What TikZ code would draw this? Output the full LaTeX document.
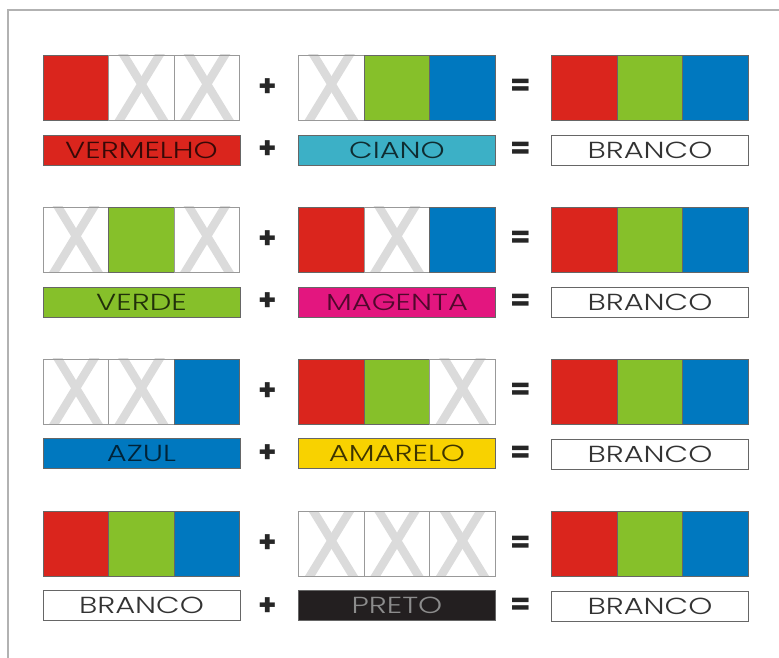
\documentclass[tikz,border=0pt]{standalone}
\usepackage{fontspec}
\setmainfont{Poppins}
\newfontfamily\rotulofont[FakeStretch=1.32]{Poppins Light}
\usepackage{xcolor}

\definecolor{vermelho}{HTML}{DA251D}
\definecolor{verde}{HTML}{86C02A}
\definecolor{azul}{HTML}{0078BF}
\definecolor{ciano}{HTML}{3CB0C6}
\definecolor{rosa}{HTML}{E3167F}
\definecolor{amarelo}{HTML}{F8D200}
\definecolor{preto}{HTML}{231F20}

\tikzstyle{cell}    = [draw=black!60, line width=0.5pt, minimum width=1.64cm, minimum height=1.63cm, inner sep=0pt, outer sep=0pt]
\tikzstyle{xcell}   = [cell, draw=black!40, fill=white, path picture={
        \draw[black!14, line width=0.21cm] ([xshift=-0.57cm, yshift=0.2cm]path picture bounding box.north) -- ([xshift=0.67cm, yshift=-0.2cm]path picture bounding box.south);
        \draw[black!14, line width=0.21cm] ([xshift=0.57cm, yshift=0.2cm]path picture bounding box.north) -- ([xshift=-0.67cm, yshift=-0.2cm]path picture bounding box.south);
    }]
\tikzstyle{rotulo}  = [draw=black!60, line width=0.5pt, minimum width=4.93cm, minimum height=0.75cm, inner sep=0pt, outer sep=0pt, font=\rotulofont\fontsize{16.5}{16.5}\selectfont]
\tikzstyle{op}      = [font=\fontsize{21}{21}\selectfont\bfseries, text=black!85]

\begin{document}
\begin{tikzpicture}[
        x=0.25cm,
        y=-0.25cm
    ]

        \useasboundingbox (0,0) rectangle (77.9,65.8);

        % moldura
        \draw[black!30, line width=0.8pt] (0.8,65.8) -- (0.8,1.0) -- (77.9,1.0);

        % Linha 1: vermelho + ciano
        \node[cell, fill=vermelho] (a11) at (7.6, 8.75) {};
        \node[xcell] (a12) at (14.15, 8.75) {};
        \node[xcell] (a13) at (20.7, 8.75) {};
        \node[xcell] (b11) at (33.15, 8.75) {};
        \node[cell, fill=verde] (b12) at (39.7, 8.75) {};
        \node[cell, fill=azul] (b13) at (46.25, 8.75) {};
        \node[rotulo, fill=vermelho, text=vermelho!25!black] (la1) at (14.15, 15.0) {VERMELHO};
        \node[rotulo, fill=ciano, text=ciano!25!black] (lb1) at (39.7, 15.0) {CIANO};

        % Linha 2: verde + magenta
        \node[xcell] (a21) at (7.6, 23.95) {};
        \node[cell, fill=verde] (a22) at (14.15, 23.95) {};
        \node[xcell] (a23) at (20.7, 23.95) {};
        \node[cell, fill=vermelho] (b21) at (33.15, 23.95) {};
        \node[xcell] (b22) at (39.7, 23.95) {};
        \node[cell, fill=azul] (b23) at (46.25, 23.95) {};
        \node[rotulo, fill=verde, text=verde!25!black] (la2) at (14.15, 30.2) {VERDE};
        \node[rotulo, fill=rosa, text=rosa!35!black] (lb2) at (39.7, 30.2) {MAGENTA};

        % Linha 3: azul + amarelo
        \node[xcell] (a31) at (7.6, 39.15) {};
        \node[xcell] (a32) at (14.15, 39.15) {};
        \node[cell, fill=azul] (a33) at (20.7, 39.15) {};
        \node[cell, fill=vermelho] (b31) at (33.15, 39.15) {};
        \node[cell, fill=verde] (b32) at (39.7, 39.15) {};
        \node[xcell] (b33) at (46.25, 39.15) {};
        \node[rotulo, fill=azul, text=azul!30!black] (la3) at (14.15, 45.35) {AZUL};
        \node[rotulo, fill=amarelo, text=amarelo!25!black] (lb3) at (39.7, 45.35) {AMARELO};

        % Linha 4: branco + preto
        \node[cell, fill=vermelho] (a41) at (7.6, 54.4) {};
        \node[cell, fill=verde] (a42) at (14.15, 54.4) {};
        \node[cell, fill=azul] (a43) at (20.7, 54.4) {};
        \node[xcell] (b41) at (33.15, 54.4) {};
        \node[xcell] (b42) at (39.7, 54.4) {};
        \node[xcell] (b43) at (46.25, 54.4) {};
        \node[rotulo, fill=white, text=black!80] (la4) at (14.15, 60.55) {BRANCO};
        \node[rotulo, fill=preto, text=black!45] (lb4) at (39.7, 60.55) {PRETO};

        % Resultado (sempre branco) e sinais
        \foreach \i/\y in {1/8.75, 2/23.95, 3/39.15, 4/54.4} {
            \node[cell, fill=vermelho] (c\i1) at (58.45, \y) {};
            \node[cell, fill=verde] (c\i2) at (65.0, \y) {};
            \node[cell, fill=azul] (c\i3) at (71.55, \y) {};
            \node[rotulo, fill=white, text=black!80] (lc\i) at (65.0, {\y+6.25}) {BRANCO};

            \node[op] (mais\i) at (26.8, \y) {+};
            \node[op] (maisl\i) at (26.8, {\y+6.25}) {+};
            \node[op] (igual\i) at (52.1, \y) {=};
            \node[op] (iguall\i) at (52.1, {\y+6.25}) {=};
        }

    \end{tikzpicture}
\end{document}
